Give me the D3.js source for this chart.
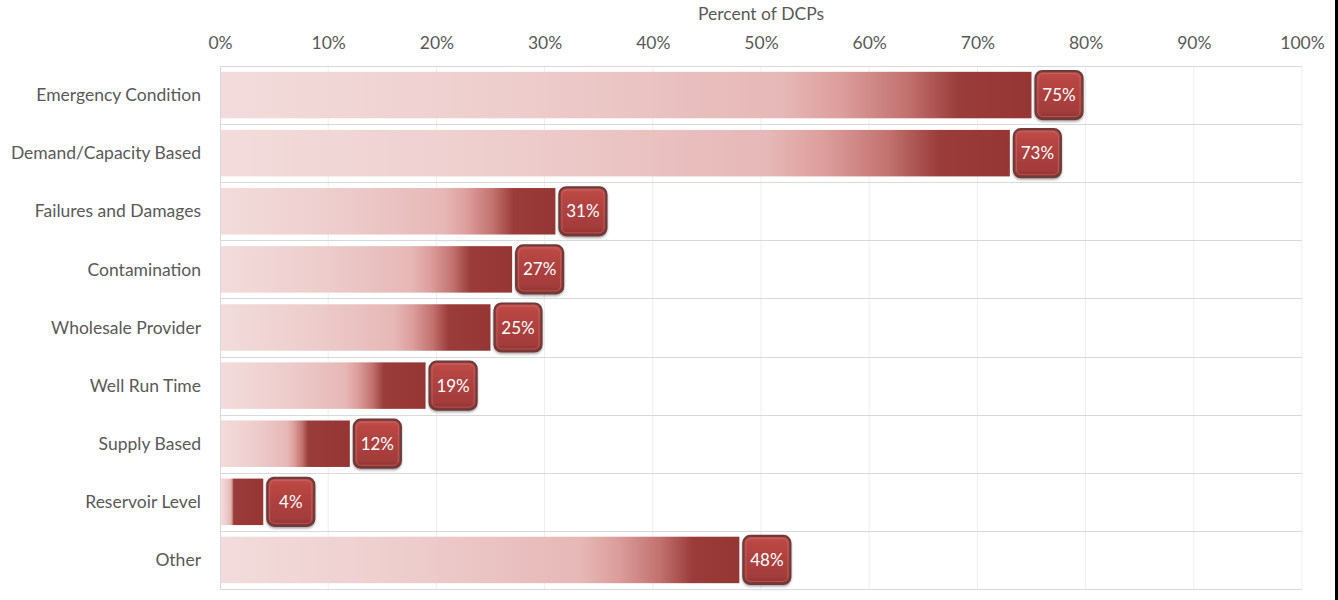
<!DOCTYPE html>
<html>
<head>
<meta charset="utf-8">
<script src="https://cdn.jsdelivr.net/npm/d3@7/dist/d3.min.js"></script>
<style>
  html, body { margin: 0; padding: 0; background: #fff; }
  svg { display: block; font-family: Lato, "Open Sans", sans-serif; }
</style>
</head>
<body>
<svg id="chart" width="1338" height="600"></svg>
<script>
// Share of DCPs using each trigger type
const categories = [
  "Emergency Condition",
  "Demand/Capacity Based",
  "Failures and Damages",
  "Contamination",
  "Wholesale Provider",
  "Well Run Time",
  "Supply Based",
  "Reservoir Level",
  "Other"
];
const values = [75, 73, 31, 27, 25, 19, 12, 4, 48];
const tickValues = [0, 10, 20, 30, 40, 50, 60, 70, 80, 90, 100];
const axisTitle = "Percent of DCPs";

const W = 1338, H = 600;
const margin = { left: 220, right: 36, top: 66, bottom: 11 };
const FS = 17.5;

const svg = d3.select("#chart");
const defs = svg.append("defs");

const x = d3.scaleLinear().domain([0, 100]).range([margin.left, W - margin.right]);
const y = d3.scaleBand().domain(categories).range([margin.top, H - margin.bottom]).padding(0);

const x0 = x.range()[0], x1 = x.range()[1];
const y0 = y.range()[0], y1 = y.range()[1];

const rows = categories.map((c, i) => ({ c, v: values[i], id: "barGrad" + i }));

// Each bar fades from pale pink into deep red; the dark end keeps a roughly fixed width
rows.forEach(r => {
  const w = x(r.v) - x0;
  const d = Math.max(0.3, Math.min(0.91, 1 - 42 / w));
  const g = defs.append("linearGradient")
    .attr("id", r.id).attr("x1", 0).attr("x2", 1).attr("y1", 0).attr("y2", 0);
  [
    [0, "#f2dcdb"],
    [0.40 * d, "#edcdcc"],
    [0.76 * d, "#e6b8b7"],
    [0.84 * d, "#dc9e9c"],
    [0.93 * d, "#c2726f"],
    [d, "#9a3c3a"],
    [1, "#963634"]
  ].forEach(([o, c]) => g.append("stop").attr("offset", o).attr("stop-color", c));
});

// Value badge fill
const badgeGrad = defs.append("linearGradient")
  .attr("id", "badgeGrad").attr("x1", 0).attr("x2", 0).attr("y1", 0).attr("y2", 1);
[
  [0.00, "#c4524f"],
  [0.15, "#b94643"],
  [0.85, "#a23c3a"],
  [1.00, "#8a302e"]
].forEach(([o, c]) => badgeGrad.append("stop").attr("offset", o).attr("stop-color", c));

const shadow = defs.append("filter").attr("id", "badgeShadow")
  .attr("x", "-30%").attr("y", "-30%").attr("width", "160%").attr("height", "160%");
shadow.append("feDropShadow").attr("dx", 0).attr("dy", 1.5).attr("stdDeviation", 1.2)
  .attr("flood-color", "#000").attr("flood-opacity", 0.35);

// Vertical gridlines
svg.append("g").selectAll("line").data(tickValues.slice(1)).join("line")
  .attr("x1", d => x(d)).attr("x2", d => x(d))
  .attr("y1", y0).attr("y2", y1)
  .attr("stroke", "#eeeeee").attr("stroke-width", 1);

// Horizontal separators between categories
const seps = categories.map(c => y(c)).concat([y1]);
svg.append("g").selectAll("line").data(seps).join("line")
  .attr("x1", x0).attr("x2", x1)
  .attr("y1", d => Math.round(d) + 0.5).attr("y2", d => Math.round(d) + 0.5)
  .attr("stroke", "#d9d9d9").attr("stroke-width", 1);

// Left axis line
svg.append("line")
  .attr("x1", x0 + 0.5).attr("x2", x0 + 0.5).attr("y1", y0).attr("y2", y1)
  .attr("stroke", "#d9d9d9");

// Top axis with percent ticks
const axis = d3.axisTop(x).tickValues(tickValues).tickFormat(d => d + "%").tickSize(0).tickPadding(0);
const gAxis = svg.append("g").attr("transform", "translate(0,49)").call(axis);
gAxis.select(".domain").remove();
gAxis.selectAll("text")
  .attr("fill", "#595959").attr("font-size", FS)
  .attr("font-family", "Lato, 'Open Sans', sans-serif");

svg.append("text")
  .attr("x", (x0 + x1) / 2).attr("y", 20)
  .attr("text-anchor", "middle")
  .attr("fill", "#595959").attr("font-size", FS)
  .text(axisTitle);

// Category labels
svg.append("g").selectAll("text").data(categories).join("text")
  .attr("x", 201)
  .attr("y", d => y(d) + y.bandwidth() / 2)
  .attr("dy", "0.35em")
  .attr("text-anchor", "end")
  .attr("fill", "#595959").attr("font-size", FS)
  .text(d => d);

const barH = y.bandwidth() * 0.8;

// Bars
svg.append("g").selectAll("rect").data(rows).join("rect")
  .attr("x", x0 + 1)
  .attr("y", d => y(d.c) + (y.bandwidth() - barH) / 2)
  .attr("width", d => x(d.v) - x0 - 1)
  .attr("height", barH)
  .attr("fill", d => `url(#${d.id})`);

// Value badges
const bw = 47, bh = 48;
const badges = svg.append("g").selectAll("g").data(rows).join("g")
  .attr("transform", d => `translate(${x(d.v) + 4},${y(d.c) + y.bandwidth() / 2 - bh / 2})`);

badges.append("rect")
  .attr("width", bw).attr("height", bh).attr("rx", 7).attr("ry", 7)
  .attr("fill", "url(#badgeGrad)")
  .attr("stroke", "#6e3b3a").attr("stroke-width", 2.2)
  .attr("filter", "url(#badgeShadow)");

badges.append("rect")
  .attr("x", 2.5).attr("y", 2.5).attr("width", bw - 5).attr("height", bh - 5)
  .attr("rx", 5).attr("ry", 5)
  .attr("fill", "none").attr("stroke", "#d0716e").attr("stroke-opacity", 0.55).attr("stroke-width", 1);

badges.append("text")
  .attr("x", bw / 2).attr("y", bh / 2)
  .attr("dy", "0.36em")
  .attr("text-anchor", "middle")
  .attr("fill", "#ffffff").attr("font-size", 17)
  .text(d => d.v + "%");

// Frame edge on the right
svg.append("rect").attr("x", 1335).attr("y", 0).attr("width", 3).attr("height", H).attr("fill", "#000");
</script>
</body>
</html>
